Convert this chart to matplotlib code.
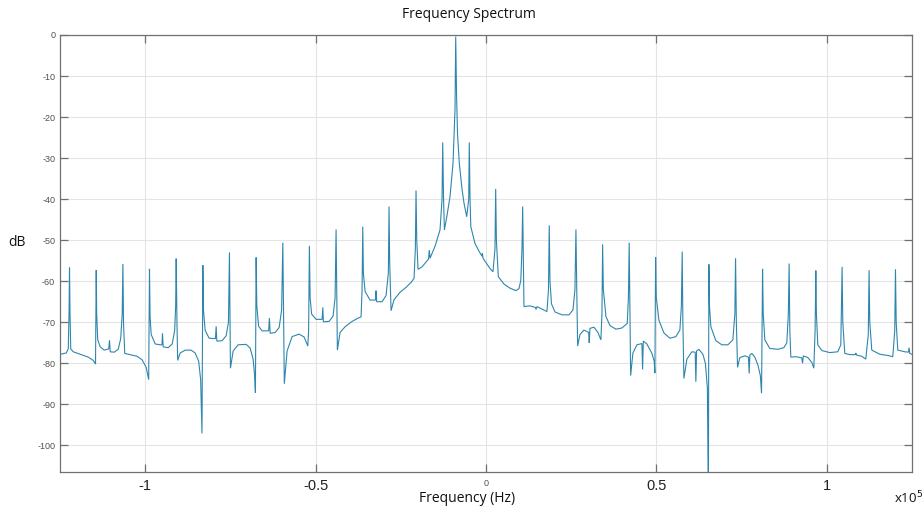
import matplotlib
matplotlib.use("Agg")
import matplotlib.pyplot as plt
import numpy as np

plt.rcParams['axes.unicode_minus'] = False

# Spectrum trace (frequency in kHz, magnitude in dB)
freq_khz = [
    -124.93, -123.17, -122.58, -122.35, -122.21, -122.06, -121.85, -121.12, -119.06, -116.72,
    -115.25, -114.58, -114.37, -114.23, -113.93, -113.20, -112.03, -110.71, -110.47, -110.27,
    -109.09, -107.92, -107.19, -106.75, -106.54, -106.37, -106.01, -104.40, -102.35, -100.88,
    -99.71, -98.98, -98.74, -98.57, -98.24, -97.07, -95.60, -95.08, -94.93, -94.72,
    -93.26, -92.08, -91.35, -91.06, -90.91, -90.68, -90.47, -89.74, -88.27, -86.51,
    -85.34, -84.31, -83.73, -83.34, -83.08, -82.90, -82.41, -81.23, -79.39, -79.18,
    -78.98, -77.42, -76.25, -75.57, -75.28, -75.13, -74.99, -74.19, -72.73, -70.38,
    -69.21, -68.33, -67.89, -67.66, -67.45, -67.25, -66.72, -65.69, -63.78, -63.55,
    -63.34, -61.88, -60.70, -59.97, -59.62, -59.42, -59.18, -58.36, -56.89, -54.84,
    -53.37, -52.29, -52.05, -51.82, -51.61, -51.17, -49.85, -48.09, -47.89, -47.71,
    -46.04, -44.87, -44.28, -43.99, -43.81, -43.61, -42.82, -41.35, -39.30, -37.54,
    -36.66, -36.36, -36.16, -35.98, -35.48, -34.02, -32.41, -32.26, -32.08, -30.50,
    -29.33, -28.65, -28.45, -28.27, -27.86, -26.98, -25.22, -23.46, -21.99, -21.11,
    -20.73, -20.53, -20.32, -19.94, -18.77, -16.86, -16.63, -16.42, -14.96, -13.49,
    -12.90, -12.70, -12.46, -12.20, -11.44, -10.56, -9.68, -9.09, -8.89, -8.65,
    -8.36, -7.83, -7.04, -6.45, -5.66, -5.07, -4.90, -4.69, -4.46, -3.23,
    -2.05, -1.17, -1.06, -0.88, 0.29, 1.17, 2.05, 2.64, 2.84, 3.05,
    3.61, 5.28, 7.04, 8.80, 9.68, 10.21, 10.56, 10.76, 10.97, 11.14,
    12.90, 14.52, 14.66, 14.96, 16.42, 17.89, 18.33, 18.56, 18.77, 19.21,
    20.24, 22.29, 24.34, 25.51, 26.10, 26.39, 26.63, 26.89, 27.57, 28.74,
    30.12, 30.29, 30.50, 31.67, 32.85, 33.72, 34.02, 34.22, 34.43, 35.19,
    36.36, 38.12, 39.88, 41.44, 41.79, 42.02, 42.23, 42.44, 43.11, 44.28,
    45.75, 45.95, 46.16, 47.21, 48.68, 49.36, 49.56, 49.77, 49.97, 50.73,
    52.20, 53.96, 55.72, 56.89, 57.33, 57.57, 57.77, 58.07, 58.95, 60.41,
    61.38, 61.58, 61.79, 62.46, 63.64, 64.37, 64.96, 65.25, 65.40, 65.57,
    65.98, 67.45, 69.21, 70.97, 72.43, 73.02, 73.23, 73.46, 73.81, 74.49,
    75.95, 77.01, 77.22, 77.42, 78.01, 78.89, 79.77, 80.50, 80.85, 81.15,
    81.35, 81.82, 83.29, 85.63, 87.39, 88.27, 88.71, 88.95, 89.15, 89.44,
    90.91, 92.67, 92.88, 93.11, 94.43, 95.60, 96.19, 96.57, 96.78, 96.95,
    97.36, 98.54, 100.88, 103.23, 104.11, 104.49, 104.69, 105.28, 106.75, 108.36,
    108.51, 108.71, 110.27, 111.44, 112.17, 112.41, 112.61, 113.20, 115.55, 117.89,
    119.36, 119.94, 120.15, 120.36, 120.83, 122.88, 123.96, 124.14, 124.35, 124.93,
]
magnitude_db = [
    -77.8, -77.5, -76.5, -68.0, -56.7, -68.0, -76.5, -77.2, -77.8, -78.5,
    -79.3, -80.2, -57.3, -68.0, -74.3, -76.0, -76.8, -76.5, -74.4, -77.2,
    -77.3, -76.6, -74.0, -68.0, -55.8, -70.0, -77.6, -77.9, -78.3, -79.2,
    -81.0, -84.0, -57.0, -68.6, -73.0, -75.3, -75.5, -75.5, -72.7, -76.0,
    -76.2, -75.3, -72.0, -66.0, -54.5, -70.0, -79.3, -77.5, -76.8, -76.8,
    -77.5, -79.5, -84.0, -97.1, -56.1, -67.0, -72.0, -73.9, -74.0, -71.0,
    -74.6, -74.5, -73.3, -70.0, -53.0, -68.0, -81.2, -77.0, -75.5, -75.4,
    -76.3, -79.0, -83.0, -87.2, -54.2, -66.0, -71.0, -72.1, -72.1, -69.0,
    -72.7, -72.5, -71.3, -67.0, -50.6, -66.0, -85.0, -77.0, -73.5, -72.9,
    -73.6, -75.8, -72.0, -51.4, -64.0, -68.0, -69.3, -69.3, -66.4, -69.9,
    -69.8, -68.5, -64.0, -47.4, -62.0, -76.8, -72.5, -71.1, -69.8, -69.0,
    -68.7, -62.0, -46.7, -58.0, -62.5, -64.6, -64.6, -62.3, -65.0, -65.0,
    -63.5, -58.0, -41.8, -55.0, -67.2, -64.5, -62.7, -61.5, -60.3, -59.3,
    -52.0, -37.9, -50.0, -57.1, -56.5, -54.6, -52.4, -54.4, -51.5, -47.5,
    -40.0, -26.2, -40.0, -47.5, -44.0, -39.4, -31.3, -18.0, -0.4, -14.2,
    -24.0, -31.3, -37.5, -41.0, -44.3, -40.0, -26.2, -40.0, -46.7, -50.8,
    -52.7, -53.9, -53.2, -54.4, -55.8, -56.9, -57.7, -52.0, -37.5, -50.0,
    -58.9, -60.7, -61.7, -62.3, -61.8, -59.8, -52.0, -41.8, -55.0, -66.2,
    -66.0, -66.4, -66.9, -66.2, -66.8, -67.4, -62.0, -46.4, -60.0, -65.5,
    -67.5, -68.2, -68.2, -67.0, -62.0, -47.4, -62.0, -75.8, -73.0, -71.9,
    -72.5, -75.0, -71.5, -71.2, -72.5, -74.3, -68.0, -51.0, -62.0, -68.6,
    -70.8, -71.7, -71.4, -70.3, -64.0, -50.6, -68.0, -83.0, -77.5, -75.5,
    -75.2, -81.5, -74.6, -75.3, -77.6, -79.5, -82.4, -54.1, -64.0, -69.5,
    -72.6, -73.9, -73.5, -71.9, -66.0, -52.8, -70.0, -83.7, -79.0, -77.2,
    -77.3, -84.5, -77.0, -76.6, -77.8, -80.0, -86.0, -115.0, -55.9, -66.0,
    -71.1, -74.5, -75.5, -75.5, -74.3, -68.0, -54.4, -70.0, -81.0, -78.6,
    -78.2, -78.5, -82.5, -78.0, -77.6, -78.5, -80.4, -83.0, -87.3, -57.0,
    -68.0, -74.3, -76.4, -76.6, -76.2, -75.0, -68.0, -55.7, -72.0, -78.5,
    -78.4, -78.7, -80.0, -78.2, -78.6, -79.8, -81.2, -72.0, -57.4, -68.0,
    -75.5, -76.9, -77.4, -77.2, -75.5, -56.5, -70.0, -77.6, -77.9, -77.9,
    -77.5, -78.0, -78.3, -79.0, -73.0, -57.3, -70.0, -76.8, -77.8, -78.1,
    -78.4, -72.0, -57.1, -70.0, -76.8, -77.2, -77.3, -76.2, -77.6, -77.8,
]

x_ticks = [-1e5, -0.5e5, 0, 0.5e5, 1e5]
x_tick_labels = ['-1', '-0.5', '0', '0.5', '1']
y_ticks = [0, -10, -20, -30, -40, -50, -60, -70, -80, -90, -100]
y_tick_labels = ['0', '-10', '-20', '-30', '-40', '-50', '-60', '-70', '-80', '-90', '-100']

W, H = 923, 509
fig = plt.figure(figsize=(W / 100, H / 100), dpi=100)
ax = fig.add_axes([60 / W, 1 - 472 / H, (912 - 60) / W, (472 - 35) / H])

freq_hz = np.array(freq_khz) * 1000.0
ax.plot(freq_hz, magnitude_db, color='#2f86ad', lw=0.8, solid_joinstyle='miter')

ax.set_xlim(-125000, 125000)
ax.set_ylim(-106.5, 0)

ax.set_xticks(x_ticks)
ax.set_xticklabels(x_tick_labels)
ax.set_yticks(y_ticks)
ax.set_yticklabels(y_tick_labels)

ax.grid(True, color='#e4e4e4', lw=0.8)
ax.set_axisbelow(True)
for s in ax.spines.values():
    s.set_color('#707070')
    s.set_linewidth(0.9)

ax.tick_params(direction='in', top=True, right=True, length=6, width=0.9,
               color='#707070')
ax.tick_params(axis='y', labelsize=6.5, labelcolor='#505050', pad=3.5)
ax.tick_params(axis='x', labelsize=10.5, labelcolor='#222222', pad=5)
for lab in ax.get_xticklabels():
    lab.set_fontfamily('Liberation Sans')
    if lab.get_text() == '0':
        lab.set_fontsize(6.5)
        lab.set_color('#505050')
for lab in ax.get_yticklabels():
    lab.set_fontfamily('Liberation Sans')

fig.text(469 / W, 1 - 15 / H, 'Frequency Spectrum', ha='center', va='center',
         fontsize=10, family='Open Sans', color='#111111')
fig.text(467 / W, 1 - 498 / H, 'Frequency (Hz)', ha='center', va='center',
         fontsize=10, family='Open Sans', color='#111111')
fig.text(17 / W, 1 - 243 / H, 'dB', ha='center', va='center',
         fontsize=10, family='Open Sans', color='#111111')
fig.text(909 / W, 1 - 498 / H, r'x10$^{5}$', ha='center', va='center',
         fontsize=9.5, family='Open Sans', color='#111111')

fig.savefig('out.png', dpi=100)
